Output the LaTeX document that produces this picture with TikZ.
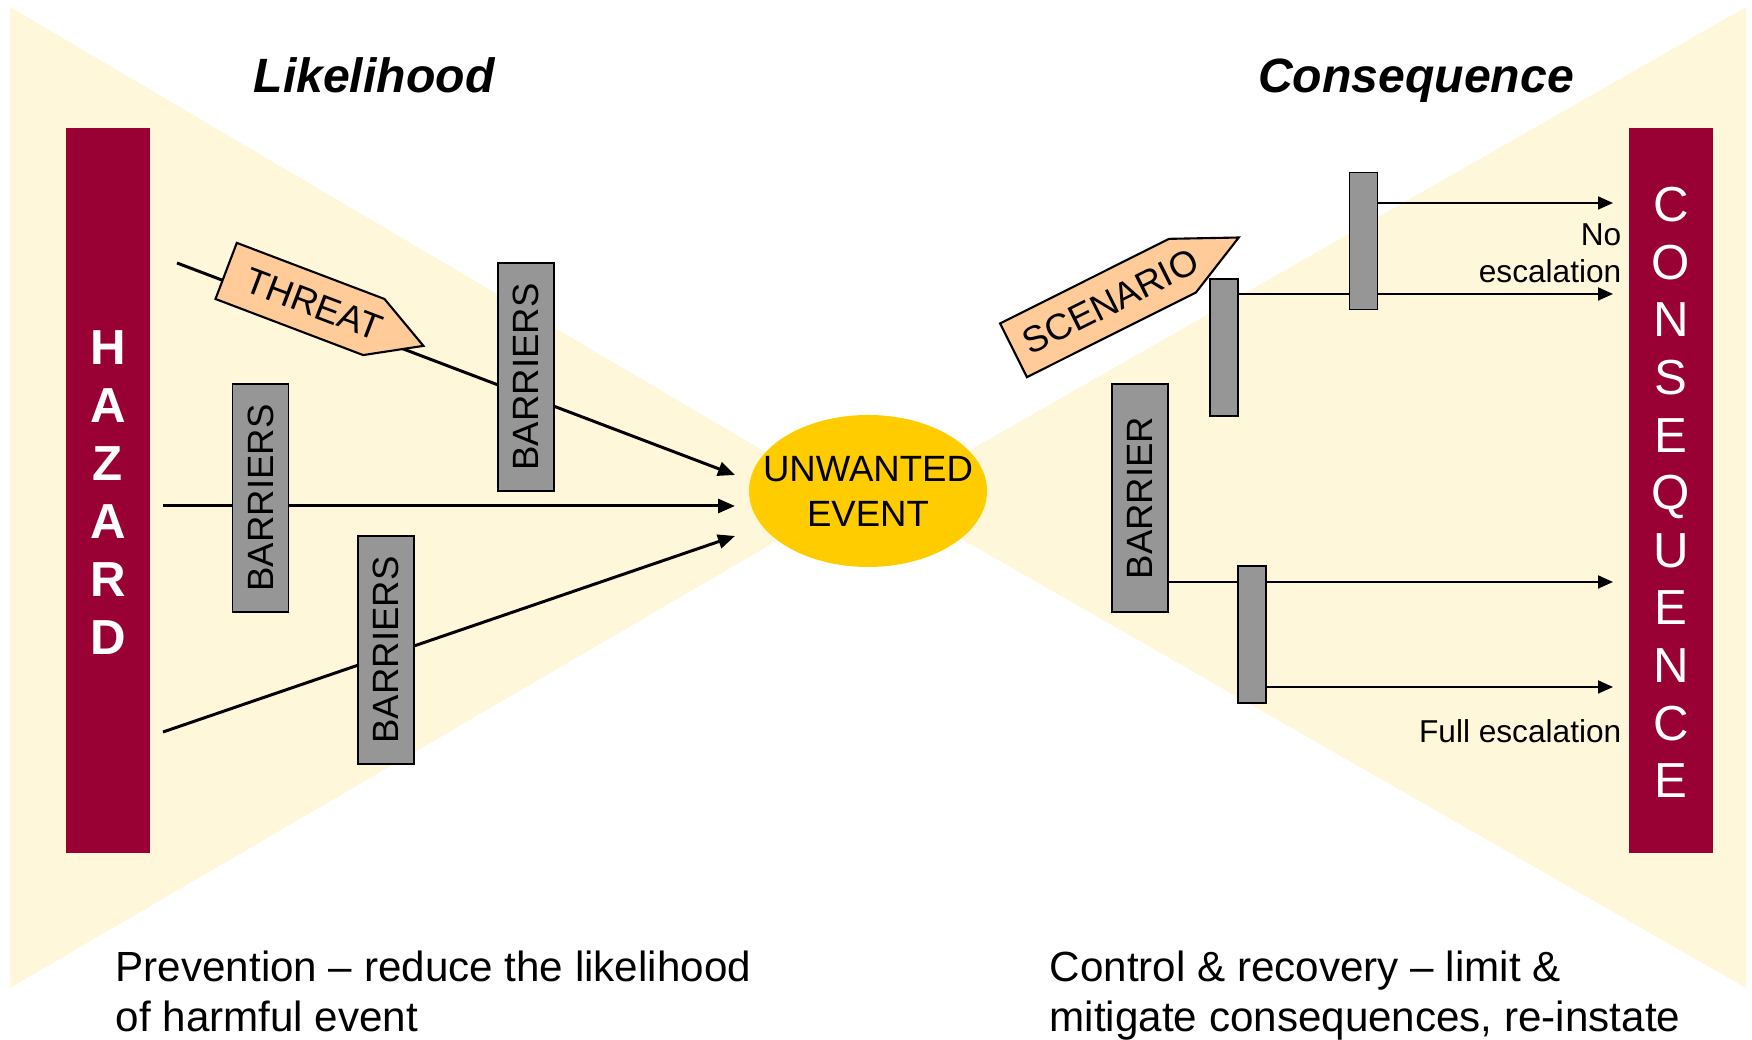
\documentclass[tikz,border=0pt]{standalone}
\usepackage{fontspec}
\setmainfont{Liberation Sans}
\usetikzlibrary{positioning,shapes.geometric,shapes.symbols,arrows.meta}
\definecolor{fancream}{HTML}{FFF7D9}
\definecolor{hazardred}{HTML}{990033}
\definecolor{eventgold}{HTML}{FFCC00}
\definecolor{threatpeach}{HTML}{FFCC99}
\definecolor{barriergray}{HTML}{969696}
\pgfdeclarelayer{fan}
\pgfdeclarelayer{lines}
\pgfsetlayers{fan,lines,main}
\tikzset{
  sidebar/.style={
    rectangle,
    fill=hazardred,
    minimum width=0.84cm,
    minimum height=7.25cm,
    inner sep=0pt},
  barletter/.style={text=white, inner sep=0pt, anchor=base,
    font=\fontsize{14}{16}\selectfont},
  barrier/.style={
    rectangle,
    draw=black, line width=0.5pt,
    fill=barriergray,
    rotate=90,
    minimum width=2.28cm,
    minimum height=0.56cm,
    inner sep=0pt,
    font=\fontsize{10.4}{12}\selectfont},
  slab/.style={
    rectangle,
    draw=black, line width=0.5pt,
    fill=barriergray,
    minimum width=0.28cm,
    minimum height=1.37cm,
    inner sep=0pt},
  sign/.style={
    signal, signal to=east,
    draw=black, line width=0.6pt,
    fill=threatpeach,
    inner sep=0pt,
    minimum height=0.6cm,
    align=center,
    font=\fontsize{10.4}{12}\selectfont},
  hazline/.style={line width=0.85pt, -{Triangle[length=0.17cm,width=0.14cm]}},
  escline/.style={line width=0.5pt, -{Triangle[length=0.15cm,width=0.13cm]}},
  title/.style={font=\fontsize{13.7}{16}\selectfont\bfseries\itshape, inner sep=0pt, anchor=base},
  note/.style={font=\fontsize{9}{10.8}\selectfont, inner sep=0pt, align=right, anchor=base east},
  summary/.style={font=\fontsize{12}{14.3}\selectfont, inner sep=0pt, align=left, anchor=base west},
}
% text nudged towards the point of a sign
\newcommand{\signtext}[2]{\makebox[0pt]{\hspace{#1}#2}}
\begin{document}
\begin{tikzpicture}
\useasboundingbox (0,0) rectangle (17.52,10.40);

% bow tie fans
\begin{pgfonlayer}{fan}
\fill[fancream] (0.10,10.33) -- (8.47,5.40) -- (0.10,0.52) -- cycle;
\fill[fancream] (17.46,10.33) -- (8.88,5.43) -- (17.46,0.52) -- cycle;
\end{pgfonlayer}

% side bars
\node[sidebar] (hazard) at (1.08,5.495) {};
\node[sidebar] (conseq) at (16.71,5.495) {};
\foreach \l [count=\i from 0] in {H,A,Z,A,R,D}
  \node[barletter, font=\fontsize{14}{16}\selectfont\bfseries] (h\i) at (1.08,6.753-0.58*\i) {\l};
\foreach \l [count=\i from 0] in {C,O,N,S,E,Q,U,E,N,C,E}
  \node[barletter] (c\i) at (16.71,8.183-0.576*\i) {\l};

% titles
\node[title] (likelihood) at (3.74,9.47) {Likelihood};
\node[title] (consequence) at (14.16,9.47) {Consequence};

% centre
\node[ellipse, fill=eventgold, minimum width=2.38cm, minimum height=1.52cm,
  inner xsep=-0.24cm, inner ysep=0pt, align=center,
  font=\fontsize{10.4}{12.8}\selectfont] (event) at (8.68,5.49) {UNWANTED\\EVENT};

% prevention side
\node[barrier] (bar1) at (2.605,5.42) {BARRIERS};
\node[barrier] (bar2) at (5.26,6.63) {BARRIERS};
\node[barrier] (bar3) at (3.86,3.90) {BARRIERS};
\node[sign, text width=1.58cm, signal pointer angle=59, rotate=-20.8] (threat) at (3.00,7.41) {\signtext{0.3cm}{THREAT}};

\coordinate (t1) at (1.77,7.77);
\coordinate (t2) at (1.63,5.34);
\coordinate (t3) at (1.63,3.08);
\coordinate (e1) at (7.35,5.65);
\coordinate (e2) at (7.35,5.34);
\coordinate (e3) at (7.35,5.04);

% recovery side
\node[barrier] (bar4) at (11.40,5.42) {BARRIER};
\node[slab] (slab1) at (12.24,6.925) {};
\node[slab] (slab2) at (13.635,7.99) {};
\node[slab] (slab3) at (12.52,4.055) {};
\node[sign, text width=1.89cm, signal pointer angle=51, rotate=26.6] (scenario) at (10.98,7.32) {\signtext{0.28cm}{SCENARIO}};

\coordinate (o1) at (16.13,8.37);
\coordinate (o2) at (16.13,7.46);
\coordinate (o3) at (16.13,4.58);
\coordinate (o4) at (16.13,3.53);

\begin{pgfonlayer}{lines}
\draw[hazline] (t1) -- (e1);
\draw[hazline] (t2) -- (e2);
\draw[hazline] (t3) -- (e3);
\draw[escline] (slab2.east |- o1) -- (o1);
\draw[escline] (slab1.east |- o2) -- (o2);
\draw[escline] (bar4.south |- o3) -- (o3);
\draw[escline] (slab3.east |- o4) -- (o4);
\end{pgfonlayer}

\node[note] (noesc) at (16.22,7.57) {No\\escalation};
\node[note] (fullesc) at (16.22,2.97) {Full escalation};

% captions
\node[summary] (prevention) at (1.15,0.08) {Prevention – reduce the likelihood\\of harmful event};
\node[summary] (control) at (10.49,0.08) {Control \& recovery – limit \&\\mitigate consequences, re-instate};
\end{tikzpicture}
\end{document}
